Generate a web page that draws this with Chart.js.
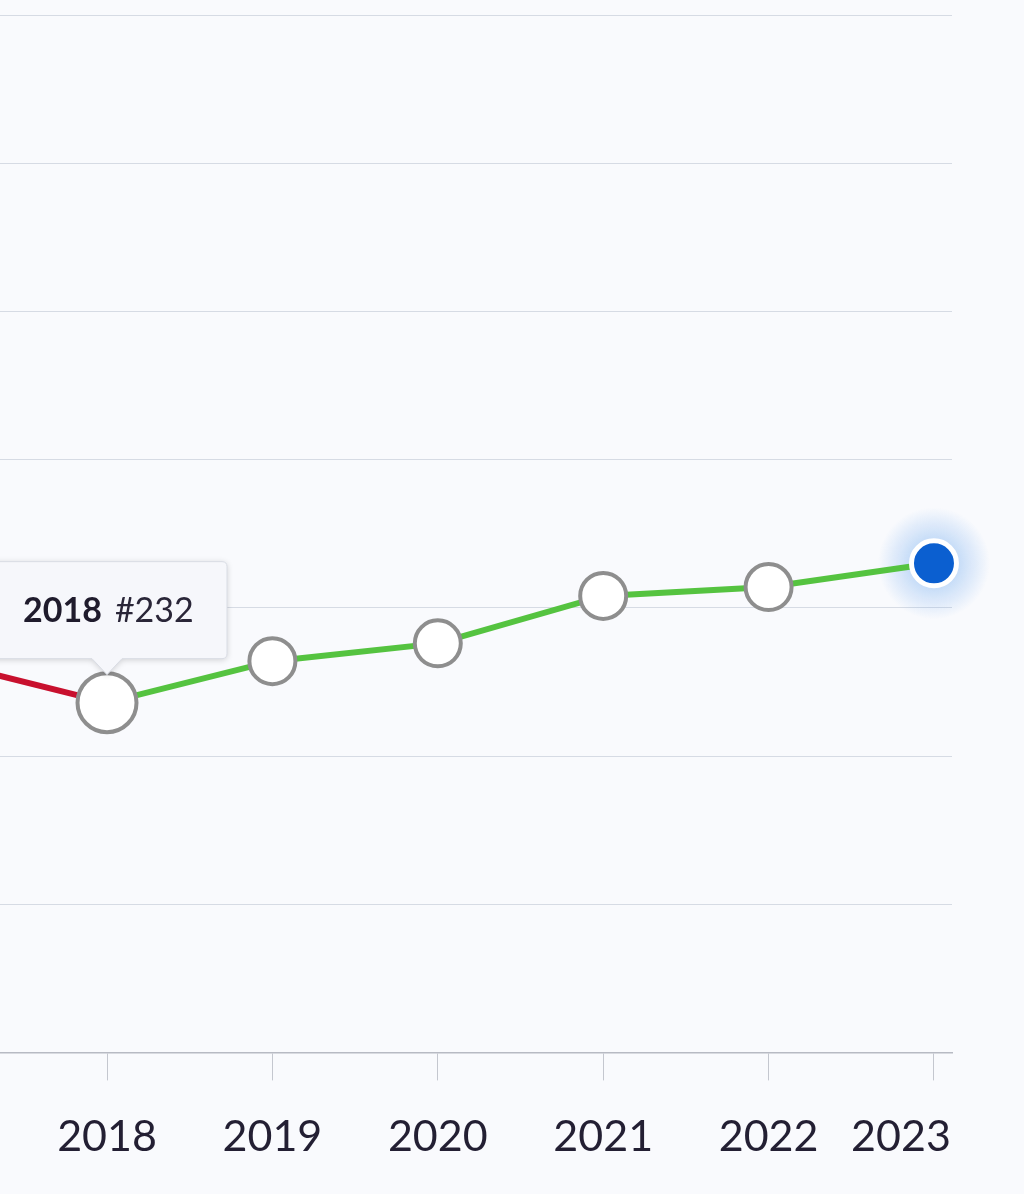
<!DOCTYPE html>
<html>
<head>
<meta charset="utf-8">
<script src="https://cdn.jsdelivr.net/npm/chart.js@4"></script>
<style>
  html, body { margin: 0; padding: 0; background: #f9fafd; }
  #wrap { width: 1024px; height: 1194px; position: relative; }
</style>
</head>
<body>
<div id="wrap"><canvas id="rank-chart"></canvas></div>
<script>
const years = [2017, 2018, 2019, 2020, 2021, 2022, 2023];
const ranks = [218, 232, 218, 212, 196, 193, 185];
const tickYears = [2018, 2019, 2020, 2021, 2022, 2023];
const highlightIndex = 1; // 2018 tooltip

const red = '#c8102e';
const green = '#55c340';
const ringGray = '#8e8e8e';
const blue = '#0b5fd0';

// glow under last point + tooltip box
const extras = {
  id: 'extras',
  beforeDatasetsDraw(chart) {
    const meta = chart.getDatasetMeta(0);
    const last = meta.data[meta.data.length - 1];
    const ctx = chart.ctx;
    ctx.save();
    const g = ctx.createRadialGradient(last.x, last.y, 20, last.x, last.y, 56);
    g.addColorStop(0, 'rgba(60,140,235,0.30)');
    g.addColorStop(1, 'rgba(60,140,235,0)');
    ctx.fillStyle = g;
    ctx.beginPath();
    ctx.arc(last.x, last.y, 56, 0, Math.PI * 2);
    ctx.fill();
    ctx.restore();
  },
  afterDatasetsDraw(chart) {
    const meta = chart.getDatasetMeta(0);
    const pt = meta.data[highlightIndex];
    const ctx = chart.ctx;
    const right = pt.x + 120, left = -10;
    const top = pt.y - 141, bottom = pt.y - 44;
    const tipY = pt.y - 28, half = 15, r = 5;
    ctx.save();
    ctx.beginPath();
    ctx.moveTo(left, top);
    ctx.lineTo(right - r, top);
    ctx.quadraticCurveTo(right, top, right, top + r);
    ctx.lineTo(right, bottom - r);
    ctx.quadraticCurveTo(right, bottom, right - r, bottom);
    ctx.lineTo(pt.x + half, bottom);
    ctx.lineTo(pt.x, tipY);
    ctx.lineTo(pt.x - half, bottom);
    ctx.lineTo(left, bottom);
    ctx.closePath();
    ctx.shadowColor = 'rgba(0,0,0,0.18)';
    ctx.shadowBlur = 6;
    ctx.shadowOffsetY = 1;
    ctx.fillStyle = '#f6f7fb';
    ctx.fill();
    ctx.shadowColor = 'transparent';
    ctx.strokeStyle = '#d9dce4';
    ctx.lineWidth = 1;
    ctx.stroke();

    const ty = (top + bottom) / 2 + 1;
    ctx.textBaseline = 'middle';
    ctx.textAlign = 'left';
    ctx.fillStyle = '#1f1b2c';
    ctx.font = 'bold 34px Lato';
    const yr = String(years[highlightIndex]);
    ctx.fillText(yr, 23, ty);
    const w = ctx.measureText(yr).width;
    ctx.font = '34px Lato';
    ctx.fillStyle = '#2a2638';
    ctx.fillText('#' + ranks[highlightIndex], 23 + w + 13, ty);
    ctx.restore();
  }
};

const ctx = document.getElementById('rank-chart').getContext('2d');

new Chart(ctx, {
  type: 'line',
  data: {
    datasets: [{
      data: years.map((y, i) => ({ x: y, y: ranks[i] })),
      borderWidth: 6,
      borderColor: green,
      segment: {
        borderColor: c => c.p0DataIndex === 0 ? red : green
      },
      pointRadius: [0, 29.5, 23, 23, 23, 23, 22.5],
      pointBorderWidth: [0, 4, 4, 4, 4, 4, 5],
      pointBackgroundColor: ['#fff', '#fff', '#fff', '#fff', '#fff', '#fff', blue],
      pointBorderColor: [ringGray, ringGray, ringGray, ringGray, ringGray, ringGray, '#ffffff'],
      tension: 0,
      clip: false
    }]
  },
  options: {
    responsive: true,
    maintainAspectRatio: false,
    animation: false,
    events: [],
    layout: { autoPadding: false, padding: { left: 0, right: 72, top: 15, bottom: 0 } },
    plugins: { legend: { display: false }, tooltip: { enabled: false } },
    scales: {
      x: {
        type: 'linear',
        min: 2017.353,
        max: 2023.109,
        afterBuildTicks: scale => { scale.ticks = tickYears.map(v => ({ value: v })); },
        afterFit: scale => {
          scale.paddingLeft = 0;
          scale.paddingRight = 0;
        },
        grid: { drawOnChartArea: false, drawTicks: true, tickLength: 28, color: '#c4c7cf' },
        border: { display: true, color: '#b7bac3', width: 1.5 },
        ticks: {
          padding: 31,
          maxRotation: 0,
          autoSkip: false,
          color: '#231f33',
          font: { family: 'Lato', size: 43 },
          callback: v => v === 2023 ? '2023\u00a0\u00a0\u00a0\u00a0\u00a0\u00a0' : String(v)
        }
      },
      y: {
        reverse: true,
        min: 0,
        max: 350,
        afterFit: scale => {
          scale.width = 0;
          scale.paddingTop = 0;
          scale.paddingBottom = 0;
        },
        ticks: { display: false, stepSize: 50 },
        grid: { color: '#d6dbe4', drawTicks: false, lineWidth: 1 },
        border: { display: false }
      }
    }
  },
  plugins: [extras]
});
</script>
</body>
</html>
